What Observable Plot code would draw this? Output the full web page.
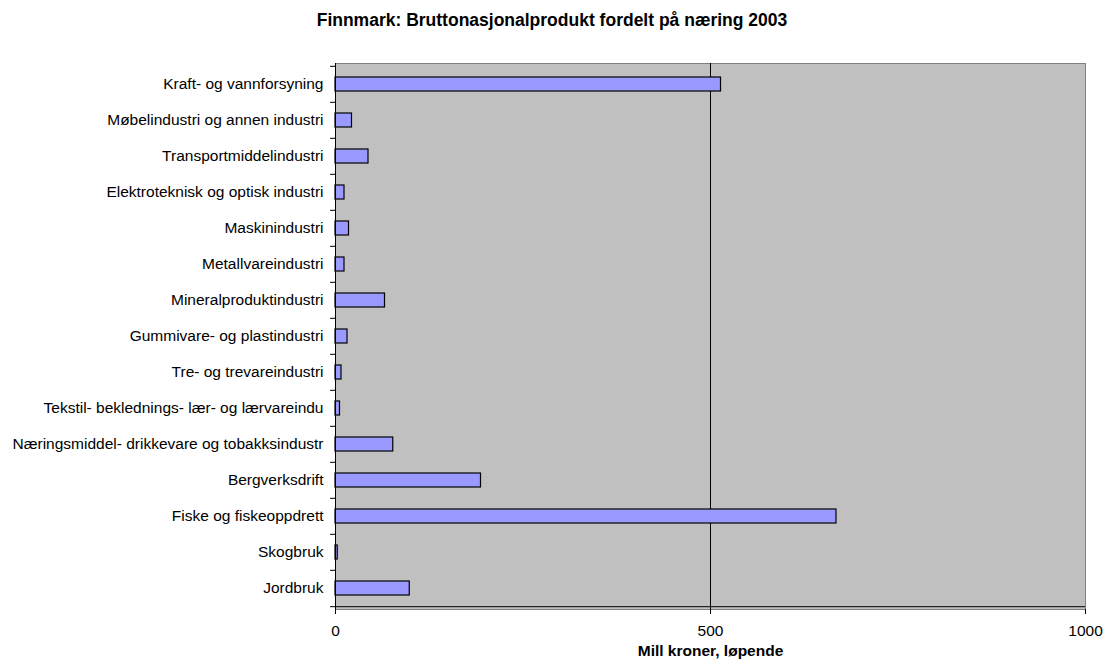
<!DOCTYPE html>
<html><head><meta charset="utf-8">
<script src="https://cdn.jsdelivr.net/npm/d3@7"></script>
<script src="https://cdn.jsdelivr.net/npm/@observablehq/plot@0.6"></script>
<style>
body{margin:0;background:#fff;font-family:"Liberation Sans",Arial,sans-serif}
#title{height:40px;line-height:40px;text-align:center;font-weight:bold;font-size:17.5px;color:#000}
</style></head><body>
<div id="title">Finnmark: Bruttonasjonalprodukt fordelt på næring 2003</div>
<div id="chart"></div>
<script>
const categories = [
  "Kraft- og vannforsyning",
  "Møbelindustri og annen industri",
  "Transportmiddelindustri",
  "Elektroteknisk og optisk industri",
  "Maskinindustri",
  "Metallvareindustri",
  "Mineralproduktindustri",
  "Gummivare- og plastindustri",
  "Tre- og trevareindustri",
  "Tekstil- beklednings- lær- og lærvareindu",
  "Næringsmiddel- drikkevare og tobakksindustr",
  "Bergverksdrift",
  "Fiske og fiskeoppdrett",
  "Skogbruk",
  "Jordbruk"
];
const values = [514, 22, 44, 12, 18, 12, 66, 16, 8, 6, 77, 194, 668, 3, 99];
const xTicks = [0, 500, 1000];
const gridValues = [500];
const xLabel = "Mill kroner, løpende";

const data = categories.map((c, i) => ({category: c, value: values[i]}));
const W = 1104, H = 626, mt = 23, mb = 57, ml = 335, mr = 19;
const step = (H - mt - mb) / categories.length;
const fs = 15.5;

const chart = Plot.plot({
  width: W, height: H,
  marginTop: mt, marginBottom: mb, marginLeft: ml, marginRight: mr,
  style: {fontFamily: "'Liberation Sans', Arial, sans-serif", fontSize: fs + "px", color: "#000", background: "#fff"},
  x: {domain: [0, 1000]},
  y: {domain: categories, paddingInner: 0.6, paddingOuter: 0.3},
  marks: [
    Plot.frame({fill: "#c0c0c0", stroke: "#808080"}),
    Plot.ruleX(gridValues, {stroke: "#000", strokeWidth: 1}),
    Plot.barX(data, {x: "value", y: "category", fill: "#9999ff", stroke: "#000", strokeWidth: 1.2}),
    Plot.ruleX([0], {stroke: "#000", strokeWidth: 1}),
    Plot.ruleY([categories[categories.length - 1]], {dy: step / 2, stroke: "#000", strokeWidth: 1}),
    Plot.axisY({tickSize: 5, tickFormat: () => "", label: null, dy: -step / 2, stroke: "#000"}),
    Plot.axisY([categories[categories.length - 1]], {tickSize: 5, tickFormat: () => "", label: null, dy: step / 2, stroke: "#000"}),
    Plot.axisY({tickSize: 0, tickPadding: 12, label: null, fontSize: fs, fill: "#000"}),
    Plot.axisX({ticks: xTicks, tickSize: 5, tickPadding: 10, tickFormat: d3.format("d"), label: null, fontSize: fs, stroke: "#000", fill: "#000"}),
    Plot.text([xLabel], {frameAnchor: "bottom", lineAnchor: "middle", dy: 42, fontWeight: "bold", fontSize: fs, fill: "#000"})
  ]
});
document.getElementById("chart").appendChild(chart);
</script>
</body></html>
